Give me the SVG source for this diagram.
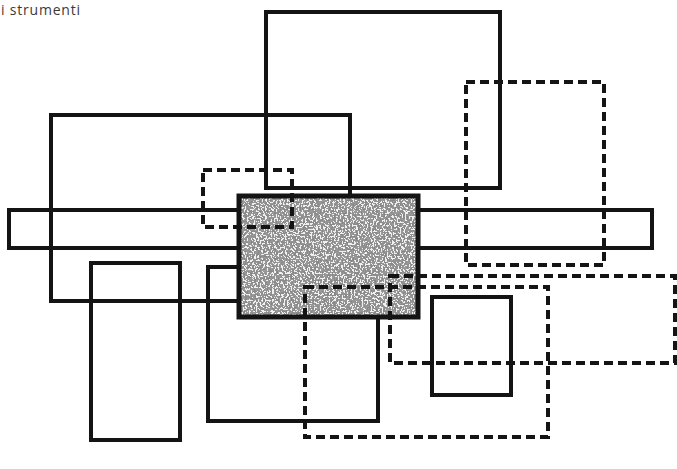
<svg xmlns="http://www.w3.org/2000/svg" width="677" height="469" viewBox="0 0 677 469">
<style>
.s{fill:none;stroke:#141414;stroke-width:4}
.d{fill:none;stroke:#141414;stroke-width:4;stroke-dasharray:9 5}
.t{font-family:"Open Sans","Liberation Sans",sans-serif;font-size:14px;letter-spacing:0.8px;fill:#3a3a3a}
</style>
<defs>
<filter id="stip" x="0" y="0" width="1" height="1">
<feTurbulence type="fractalNoise" baseFrequency="0.55" numOctaves="2" seed="3" result="n"/>
<feColorMatrix in="n" type="matrix" values="0 0 0 0 0.25  0 0 0 0 0.25  0 0 0 0 0.25  1 0 0 0 0" result="a"/>
<feComponentTransfer in="a" result="b"><feFuncA type="discrete" tableValues="1 1 1 0.9 0 0 0"/></feComponentTransfer>
<feFlood flood-color="#f0f0f0" result="w"/>
<feComposite in="b" in2="w" operator="over" result="c"/>
<feComposite in="c" in2="SourceGraphic" operator="in"/>
</filter>
</defs>
<rect width="677" height="469" fill="#fff"/>
<text class="t" x="1" y="15">i strumenti</text>
<g id="solid-rects">
<g id="r-top"><rect class="s" x="266" y="12" width="234" height="176"/></g>
<g id="r-left"><rect class="s" x="51" y="115" width="299" height="186"/></g>
<g id="r-bar"><rect class="s" x="9" y="210" width="643" height="38"/></g>
<g id="r-tall"><rect class="s" x="91" y="263" width="89" height="177"/></g>
<g id="r-mid"><rect class="s" x="208" y="267" width="170" height="154"/></g>
<g id="r-small"><rect class="s" x="432" y="297" width="79" height="98"/></g>
</g>
<g id="r-stipple">
<rect x="239" y="196" width="179" height="121" fill="#000" filter="url(#stip)"/>
<rect x="239" y="196" width="179" height="121" fill="none" stroke="#141414" stroke-width="5"/>
</g>
<g id="dashed-rects">
<g id="d-small"><rect class="d" x="203" y="170" width="89" height="57"/></g>
<g id="d-right"><rect class="d" x="466" y="82" width="138" height="183"/></g>
<g id="d-wide"><rect class="d" x="390" y="276" width="285" height="87"/></g>
<g id="d-low"><rect class="d" x="305" y="287" width="243" height="150"/></g>
</g>
<g id="connectors"/>
</svg>
